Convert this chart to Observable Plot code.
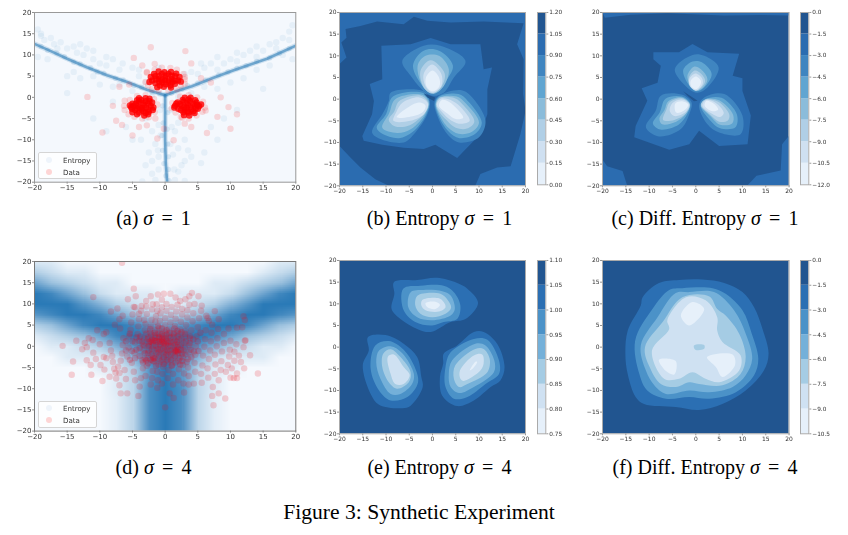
<!DOCTYPE html>
<html><head><meta charset="utf-8">
<script src="https://cdn.jsdelivr.net/npm/d3@7"></script>
<script src="https://cdn.jsdelivr.net/npm/@observablehq/plot@0.6"></script>
<style>
html,body{margin:0;padding:0;background:#fff}
#fig{position:relative;width:848px;height:535px;overflow:hidden}
#fig svg{position:absolute;background:transparent;filter:blur(.4px);overflow:visible}
.cap{position:absolute;font-family:"Liberation Serif",serif;font-size:20px;color:#000;white-space:nowrap;transform:translate(-50%,-50%)}
.cap b{font-weight:normal;margin:0 .08em}
.legend{position:absolute;width:57px;height:25px;background:rgba(255,255,255,.8);border:1px solid #d5d5d5;border-radius:2px;font:7.1px "DejaVu Sans",sans-serif;color:#333;filter:blur(.3px)}
.legend i{position:absolute;left:7px;width:6.4px;height:6.4px;border-radius:50%}
.legend span{position:absolute;left:24px}
</style></head><body><div id="fig"></div>
<script>
const axisTicks=[-20,-15,-10,-5,0,5,10,15,20];
const ramp8=["#e6f0fa","#cfe0f1","#b0cfe6","#8bbcda","#60a5d1","#3f85c0","#2b6cb0","#215590"];
const ramp7=["#e6f0fa","#cfe1f2","#a5cce4","#74b0d9","#4b92c8","#2b6fb3","#215590"];
const ticksB=[0,.15,.3,.45,.6,.75,.9,1.05,1.2];
const ticksC=[-12,-10.5,-9,-7.5,-6,-4.5,-3,-1.5,0];
const ticksE=[.75,.8,.85,.9,.95,1,1.05,1.1];
const ticksF=[-10.5,-9,-7.5,-6,-4.5,-3,-1.5,0];

// contour regions: [band index, outline in data units]
const contoursB=[
[7,[[-18.7,16.2],[-15.5,16.9],[-11.9,17.9],[-6.2,17.3],[-4,19],[-1.1,18.1],[3.9,17.7],[11,17.9],[19.6,17.5],[18.2,12.7],[19.6,9.2],[19.5,1.2],[20,-2.7],[18.9,-8.1],[16.8,-15.5],[13.9,-15.8],[10.3,-17.3],[9.2,-20],[-9.4,-20],[-12.3,-18.5],[-15.5,-15.8],[-17.6,-13.5],[-20,-10.8],[-20,8.1],[-18.5,9.6],[-19.6,13.1],[-18.5,14.2]]],
[6,[[-11,12.3],[-4.7,12.7],[-0.4,14.1],[3.9,12.7],[10.3,12.7],[11,6.9],[12.8,7.3],[11.8,2.3],[11.8,-3.5],[10.3,-8.1],[8.9,-9.6],[5.3,-13.6],[0.6,-10.5],[-1.9,-11.5],[-6.2,-11.2],[-10.8,-10.5],[-14.8,-9.6],[-15.1,-8.5],[-13,-3.5],[-12.6,-0.4],[-13.5,3.5],[-10.8,4.6]]],
[5,[[-6.5,8.8],[-1.9,12.3],[1.7,12.3],[7.1,8.8],[4.6,5],[2.4,1.5],[0.1,0.8],[-1.9,1.9],[-4.7,5.4]]],
[4,[[-4.2,7.7],[-1.9,11.2],[1.4,11.2],[4.4,7.7],[2.4,3.5],[0.6,1.3],[-1.5,2.3]]],
[3,[[-3.2,7.7],[-1.5,10],[1.4,10],[3.5,6.9],[2.4,3],[0.3,1.3],[-1.8,2.5]]],
[2,[[-2.6,6.5],[-0.4,9],[2.6,6],[2,3],[0,1.3],[-1.8,2.6]]],
[1,[[-1.9,5.8],[-0.1,8],[1.9,5.8],[1.9,3],[0,1.5],[-1.5,3]]],
[0,[[-1.4,5],[0,6.6],[1.4,5],[1.5,3],[0,1.8],[-1.3,3]]],
[5,[[-9,1.5],[-1.9,1.8],[-0.6,-0.4],[-1.1,-3.5],[-4,-8.1],[-6.2,-10],[-11.2,-9.2],[-13,-7.7],[-10.8,-3.5],[-9.4,-0.4]]],
[4,[[-8.5,0.6],[-2,1.4],[-0.7,-0.5],[-1.3,-3.4],[-4.3,-7.6],[-7.2,-9],[-10.8,-8],[-12,-6.6],[-10,-3.5]]],
[3,[[-8,0],[-2.2,1],[-0.8,-0.7],[-1.5,-3.3],[-4.6,-6.9],[-7.6,-7.8],[-10.8,-6.6],[-9.3,-3.2]]],
[2,[[-7.2,-0.5],[-2.5,0.8],[-0.9,-0.9],[-1.7,-3.2],[-4.9,-6],[-8,-6.3],[-9.4,-4.8],[-8.2,-2.8]]],
[1,[[-6.4,-0.8],[-2.8,0.4],[-1,-1],[-1.8,-3.4],[-4.8,-5],[-8.4,-5],[-7.8,-3]]],
[0,[[-5.8,-2.3],[-2.9,-0.8],[-1.5,-1.5],[-2.2,-3.1],[-5,-4.1],[-7.7,-4.2]]],
[5,[[1.4,0.8],[6,2.1],[8.2,0.8],[11.4,-5],[10,-8.8],[5.7,-10],[3.2,-8.1],[1,-3.8],[0.4,-0.8]]],
[4,[[1.4,0.6],[5.6,1.2],[7.6,-0.4],[10.6,-5.4],[9.2,-8],[5.8,-9],[3.4,-7.4],[1.2,-3.6],[0.6,-1]]],
[3,[[1.5,0.4],[5.2,0.6],[7.2,-1],[10,-5.4],[8.4,-7.6],[5.6,-8],[3.4,-6.6],[1.4,-3.4],[0.7,-1.1]]],
[2,[[1.6,0.3],[4.8,0.2],[6.8,-1.6],[9,-5.2],[7.4,-6.8],[5,-6.6],[3,-4.8],[1.5,-3],[0.8,-1.2]]],
[1,[[1.8,0.1],[4.3,-0.4],[6.4,-2.2],[8,-5],[6.2,-5.7],[4,-4.9],[2,-2.9],[0.9,-1.3]]],
[0,[[2,-0.2],[3.5,-0.6],[5.5,-2.5],[6.6,-4.3],[5,-4.6],[3.2,-3.3],[1.4,-1.5]]],
[7,[[-1.9,1.3],[0.6,0.4],[0.3,-0.4],[-1.1,0.4]]]
];
const contoursC=[
[6,[[-20,20],[20,20],[20,19.3],[14,19.4],[6,19.3],[-6,19.8],[-14,19.5],[-19.5,18.8]]],
[6,[[-20,-14],[-19,-15.5],[-15.7,-16.6],[-14.7,-20],[-20,-20]]],
[6,[[11,-20],[13,-17.7],[18.2,-16.5],[18.5,-10.4],[20,-8.4],[20,-20]]],
[6,[[-9.1,10.8],[-3.6,10.8],[-0.7,12.7],[2.5,10.8],[9.3,10.5],[7.9,5.4],[10,4.8],[10,1.9],[11.8,-3.8],[11.1,-10.4],[5,-10.8],[0.7,-7.3],[-1.4,-10.4],[-5.7,-11.7],[-13.2,-8.8],[-12.9,-6.2],[-10.4,-0.4],[-11.6,2.5],[-8.2,3.8],[-7.5,7.7],[-9.1,9.2]]],
[5,[[-4.5,6.9],[-0.7,10.2],[1.8,10],[4.9,7.3],[2.5,2.7],[0.4,1.5],[-1.4,2.3]]],
[4,[[-2.7,6.7],[-0.7,8.7],[1.3,8.5],[3.4,5.8],[1.8,2.7],[0.1,1.8],[-1.4,3.1]]],
[3,[[-1.8,5.4],[-0.4,7.5],[1.1,6.9],[2.5,4.6],[1.4,2.5],[0,1.9],[-1.3,3.5]]],
[2,[[-1.5,4.9],[-0.2,6.6],[1.2,5.8],[2,4.2],[1,2.5],[0,2],[-1.3,3.1]]],
[1,[[-1.4,4.6],[-0.1,5.9],[1.3,4.9],[1.5,3.6],[0.7,2.4],[0,2],[-1.2,3]]],
[0,[[-1.1,4.2],[0,5.2],[1.1,4.2],[0.7,2.8],[0,2.3],[-1,3]]],
[5,[[-7.5,0.8],[-2.9,1],[-0.9,-0.8],[-1.4,-3.5],[-3.2,-6.9],[-7.9,-8.6],[-10.7,-6.5],[-8.6,-2.7]]],
[4,[[-6.5,0.1],[-3,0.6],[-1.2,-1],[-1.8,-3.4],[-3.7,-5.9],[-7.6,-7],[-9.2,-5.6],[-7.7,-3]]],
[3,[[-5.9,-0.5],[-3,0.4],[-1.3,-1.1],[-2.1,-3.4],[-4.2,-5.2],[-7.2,-5.8],[-7.8,-4.5],[-6.7,-2.5]]],
[2,[[-5.6,-0.7],[-3,0.2],[-1.3,-1.2],[-2.2,-3.4],[-4.6,-4.8],[-7,-4.8],[-6.3,-2.4]]],
[1,[[-5,-0.9],[-3,-0.1],[-1.4,-1.2],[-2.3,-3.1],[-4.6,-3.9],[-5.6,-2.7]]],
[0,[[-4.4,-1],[-2.9,-0.5],[-1.6,-1.3],[-2.5,-2.6],[-4.2,-3.1]]],
[5,[[1.8,0.4],[6.1,1.2],[10,-3.8],[9.6,-8.1],[5,-7.7],[2.5,-5.8],[0.7,-1.5]]],
[4,[[2,0],[5.5,0.3],[8.8,-3.5],[8.5,-6.5],[5.2,-6.7],[3,-4.8],[1,-1.4]]],
[3,[[2.1,0],[5.1,-0.3],[8,-3.6],[7.8,-5.6],[5.2,-5.9],[3.2,-4],[1.1,-1.4]]],
[2,[[2.1,-0.1],[4.8,-0.6],[7.2,-3.6],[6.8,-5],[5,-5.2],[3.1,-3.6],[1.1,-1.4]]],
[1,[[2.2,-0.2],[4.3,-0.9],[6,-3.2],[5.2,-4.1],[3.4,-3.3],[1.4,-1.5]]],
[0,[[2.3,-0.4],[3.8,-1],[4.8,-2.4],[3.6,-2.8],[1.9,-1.5]]],
[7,[[-2.7,1.8],[0.4,-0.4],[-0.4,-0.5],[-1.8,0.8]]]
];
const contoursE=[
[5,[[-8.3,15],[-3.3,15.5],[1,16],[5.3,14.8],[7.5,13.5],[9.8,10.2],[7.1,6.5],[3.9,5.8],[-0.4,3.5],[-3.3,4.2],[-6.9,6.5],[-8.8,8.8],[-8.2,12.3]]],
[4,[[-6.3,13.5],[-2.6,14.2],[2.4,14.2],[4.6,12.7],[6,9.6],[5.3,6.5],[2.4,5.8],[-0.1,5],[-3.7,5.8],[-6.2,8.5]]],
[3,[[-4.7,12.7],[-1.9,13.2],[2.1,12.9],[3.9,11.9],[4.8,8.8],[3.9,7.3],[-0.1,6.2],[-3.3,6.9],[-5.2,9.2]]],
[2,[[-3.2,11.9],[1.7,12.3],[3.3,10.8],[4,9.1],[2.8,7.7],[-0.1,6.9],[-2.6,7.7],[-3.7,9.6]]],
[1,[[-2.2,10.9],[1.4,11.3],[2.4,10.4],[2.8,9.2],[1.4,8.2],[-1.5,8.5],[-2.4,9.6]]],
[0,[[-1.5,10.2],[0.6,10.5],[1.6,9.8],[0.6,8.8],[-1.1,9.2]]],
[5,[[-13.9,2.3],[-10.1,2.8],[-6.2,0.8],[-3.3,-2.3],[-2.4,-6.9],[-2.1,-9.2],[-4.7,-13.5],[-6.5,-14.1],[-11.5,-13.3],[-13.3,-10.8],[-15,-4.2],[-13.7,-0.8]]],
[4,[[-12.3,0.4],[-9.4,1.4],[-6.2,-0.6],[-4,-4.2],[-3.1,-8.1],[-5.4,-11.5],[-9,-12.3],[-11.5,-10],[-13.3,-5]]],
[3,[[-11.5,-0.8],[-9,0.2],[-6.5,-1.4],[-4,-6.2],[-4.4,-8.5],[-6.9,-10.8],[-9,-10.8],[-11.2,-7.3],[-12.1,-3.5]]],
[2,[[-10.6,-1.5],[-9,-0.5],[-6.9,-2.3],[-4.7,-5.8],[-5.1,-8.1],[-7.6,-9.6],[-9.4,-8.1],[-10.8,-4.6]]],
[1,[[-9.6,-2.2],[-8.3,-1.7],[-6.2,-4.6],[-4.9,-6.5],[-6.2,-8.5],[-8,-8.5],[-9,-6.2]]],
[5,[[2.4,-1.5],[5.3,0.4],[8.9,3.5],[11,3.5],[13.9,0.8],[15.5,-4.6],[14.6,-7.7],[12.5,-9.2],[8.9,-12.3],[5.3,-13.6],[2.1,-11.2],[1.6,-6.9],[2.3,-3.8]]],
[4,[[3.9,-1.2],[8.9,1.9],[11.8,1.7],[14.3,-3.1],[14.3,-6.2],[11.4,-8.5],[7.5,-11.5],[4.6,-11.9],[2.8,-9.2],[2.8,-4.6]]],
[3,[[4.2,-3.1],[9.2,0.8],[11.4,0.4],[13.3,-3.1],[13.2,-5.8],[8.9,-9.2],[5.7,-10.6],[3.9,-9.2],[3.5,-6.2]]],
[2,[[4.9,-4.2],[9.2,-0.4],[11,-0.4],[12.3,-2.7],[11.8,-5.8],[7.5,-8.5],[5.7,-9.2],[4.6,-7.3]]],
[1,[[5.9,-5.4],[8.9,-1.9],[10.7,-1.7],[11,-3.8],[10.3,-5.4],[6.7,-7.8],[6,-7.3]]],
[0,[[8,-5.4],[9.2,-3.4],[9.6,-3.4],[8.6,-5]]]
];
const contoursF=[
[5,[[-7.9,14.8],[-3.6,15.5],[1.4,15.6],[6.1,14.8],[10,12.7],[12.5,9.2],[14.3,4.2],[15.6,-1.5],[14.6,-5.4],[10.7,-10],[5.7,-13.1],[0.7,-14.5],[-4.3,-13.8],[-11.1,-13.1],[-12.9,-11.5],[-14.6,-6.2],[-15.1,-1.5],[-14.6,3.8],[-11.8,9.6],[-11.4,11.5]]],
[4,[[-5.7,13.2],[-2.9,13.6],[3.6,13.6],[6.4,12.3],[10,8.5],[12,3.1],[13.4,-2.7],[12.5,-6.5],[8.6,-10.4],[2.9,-11.9],[-1.4,-11.5],[-6.4,-11.9],[-10.4,-10],[-12.1,-6.2],[-13,1.5],[-9.3,8.8]]],
[3,[[-4.3,12.5],[-1.4,12.7],[3.9,12.7],[8.2,8.5],[10.7,3.1],[12.1,-2.7],[10.7,-6.5],[7.9,-9.2],[2.9,-10.4],[-1.4,-10],[-6.4,-10.8],[-8.9,-8.8],[-10.7,-5.4],[-11.8,0.4],[-8.2,6.9]]],
[2,[[-2.9,11.5],[2.9,11.7],[4.6,8.8],[6.4,7.3],[9.3,3.1],[10.7,-2.3],[9.6,-6.2],[5.7,-8.8],[0.7,-8.5],[-1.4,-8.1],[-4.3,-9.2],[-7.5,-8.5],[-9.9,-4.6],[-10.9,0],[-7.1,5.8]]],
[1,[[-2.1,11.5],[2.1,10.8],[4.6,6.9],[4.6,3.8],[5.7,1.2],[9.6,-1.9],[9.3,-5.4],[5,-8.1],[2.1,-7.3],[-0.7,-5.8],[-3.6,-7.3],[-6.8,-7.3],[-9.4,-0.8],[-5.7,4.2],[-6.1,6.2]]],
[0,[[-3.2,7.3],[-0.7,10.4],[1.8,8.8],[-1.4,5]]],
[0,[[-7.9,-2.9],[-4.3,-3.2],[-4.6,-6.3],[-6.4,-5.5]]],
[0,[[2.4,-2.3],[7.9,-1.7],[8.4,-4.2],[5.7,-6.9],[4.3,-4.6]]],
[2,[[-0.4,0.4],[1.8,0.5],[1.8,-0.4],[-0.1,-0.6]]]
];

// panel (a): ridge of high entropy
const ridgeLeft=[[-20,12.6],[-17.5,10.9],[-15,9.1],[-12,7.1],[-8.9,5.2],[-5.8,3.6],[-2.8,1.8],[0,0.5]];
const ridgeRight=[[20,12.2],[15.6,9.1],[10.5,6.4],[7.4,4.6],[4.1,2.6],[1.8,1.5],[0,0.5]];
const ridgeDown=[[0,0.5],[0,-4.6],[0,-10.1],[0.1,-15.6],[0.3,-20]];
const ridgeSpots=[[-19,12],[-18,11.1],[-16.6,10.5],[-15.4,9.6],[-14,8.3],[-13,7.9],[-11.4,7],[-10.4,6],[-9.4,5.7],[-7.6,4.5],[-6.4,4.1],[-4.8,2.8],[-3.6,2.4],[-2,1.2],[-0.8,0.8],[1,1],[2.6,2],[3.4,2.8],[5,3.4],[6.2,4.1],[8.2,5.3],[9.6,6],[11,6.9],[12.4,7.5],[14,8.5],[16,9.3],[17.5,10.4],[19,11.5],[-0.4,-2],[0.4,-3.6],[-0.3,-6],[0.3,-7.5],[-0.5,-9],[0.4,-11],[-0.4,-12.5],[0.5,-14],[-0.2,-15.6],[0.5,-17],[0.1,-18.5],[0.6,-19.6]];
const entropySpots=[[-19.5,16],[-19,14.5],[-18.5,13.5],[-19.5,9.5],[-18,9],[-17,12.5],[-16,13],[-15,11.5],[-14,12],[-13.5,10.5],[-12.5,10],[-12,11.5],[-11,9],[-10,8],[-9,7.5],[-8,9],[-7,6.5],[-14,6],[-15,5],[-13,4.5],[-11,5],[-10,3],[-8,2.5],[-7,3],[-5,1.5],[-4,5],[-3,3.5],[-5,7],[-4,6.5],[-1,7],[-2,0.5],[2,0.2],[3,5.5],[4,6],[5,5.5],[6,7],[7,8],[8,6.5],[9,8],[10,9],[11,8.5],[12,10],[13,11],[14,9.5],[15,11],[16,12.5],[17,13],[18,14],[19,15.5],[19.5,17],[19.5,9],[18,10],[16,7.5],[14,6.5],[12,4.5],[10,3.5],[8,2],[6,2.5],[4,1],[-3,-5],[-2,-8],[-1.5,-11],[-2.5,-13],[-3,-16],[-2,-18],[-1.5,-19.5],[-3.5,-19.8],[1.5,-19.5],[3,-19.7],[2,-17.5],[3,-15],[4,-14],[5.5,-15.5],[6,-13],[2,-12],[3,-10],[1.5,-8],[2,-6],[-1,-6.5],[1,-7],[-1,-14],[1.2,-13.5],[-1,-17],[1.4,-17],[-0.8,-3],[0.8,-3],[-0.7,-9],[0.8,-11],[-1.1,-12.5],[-11,-5],[-9,-8],[-8,-1],[-6,-7],[-5,-10],[7,-7],[9,-5],[11,-3],[8,-10],[-15,1],[15,2],[-19,15],[-17.5,14],[-16.5,11.5],[-13,12.5],[-11,11],[-9,9.5],[-6.5,8],[5.5,8],[8,9.5],[11,10.5],[14,12],[17,11.5],[19,13.5],[-3.7,-10],[3.5,-12.5],[-2,-15],[2.5,-16]];
// panel (a): the data, dense core and sparse rim
const dataCore1=[[-1.5,5],[-0.5,5.5],[0.5,5.5],[1.5,5],[-2,4],[-1,4.3],[0,4.5],[1,4.3],[2,4],[-1.5,3.3],[-0.5,3.5],[0.5,3.5],[1.5,3.2],[-0.8,2.8],[0.8,2.8],[0,4],[-2.2,4.8],[2.2,4.8],[-0.9,5],[0.1,5.1],[1,5.1],[-0.5,4.1],[0.6,4],[1.5,3.9],[-1.4,4.2],[-0.9,3.6],[0.1,3.1],[1.1,3.6],[-0.2,2.5],[-1.7,5.5],[1.7,5.6],[-0.1,5.9],[-2.4,3.6],[2.4,3.7],[-1,6.1],[0.9,6],[-1.2,2.4],[0.9,2.3],[-5,-1.5],[-4,-1],[-3,-0.9],[-2,-1.2],[-5.2,-2.3],[-4.2,-2],[-3.2,-1.8],[-2.2,-2],[-1.8,-2.4],[-4.6,-3],[-3.6,-2.9],[-2.6,-2.9],[-4,-3.6],[-3,-3.7],[-3.4,-1.4],[-3.5,-2.5],[-2.5,-3.4],[-4.5,-1.5],[-3.9,-2.4],[-2.9,-2.4],[-4.3,-2.6],[-2.6,-1.5],[-3.7,-0.6],[-4.8,-2],[-1.9,-3],[-3.4,-3.3],[-5.4,-1.9],[-2.4,-0.9],[-4.3,-0.7],[-5.1,-2.7],[-4,-0.2],[-3,-0.2],[-2.4,-0.3],[-4.3,-4],[-3.2,-4.3],[-2.6,-4],[-5,-3.5],[2.3,-1.6],[1.9,-1.2],[2.8,-1],[3.8,-0.9],[4.8,-1.2],[1.5,-2],[2.5,-2],[3.5,-1.8],[4.5,-2],[5.2,-2.1],[2,-2.7],[3,-2.9],[4,-2.9],[5,-2.7],[2.8,-3.5],[3.6,-3.6],[3.3,-1.4],[3.3,-2.4],[4.3,-3.3],[2.9,-2.4],[3.9,-2.3],[4.3,-1.5],[2.7,-0.6],[3.6,-0.5],[4.9,-1.8],[1.7,-1.5],[2.4,-3],[3.4,-3.3],[5.5,-1.7],[4.6,-0.7],[4.7,-2.6],[1.4,-2.4],[3,-0.1],[3.9,-0.1],[2.9,-4.2],[3.7,-4.3],[4.5,-3.7]];
const dataRim1=[[-2.8,5.8],[-1.6,6.5],[-0.5,7],[0.8,6.9],[1.8,6.5],[2.8,5.5],[3,4.2],[3,3.2],[-3,3.6],[-2.6,2.8],[-2,1.9],[-1,1.7],[0.5,1.6],[1.8,1.9],[2.4,2.8],[-1.6,7.9],[-2.8,6],[3,4.8],[-4.8,9.3],[-2.2,11.8],[3.1,10.9],[-6.2,-0.8],[-6.3,-2],[-6.2,-3],[-5.6,-4],[-4.7,-4.6],[-3.5,-5],[-2.5,-4.7],[-1.6,-3.5],[-5.4,-0.6],[-4.3,0.3],[-3,0.5],[-1.7,-0.4],[-1.2,-1.7],[1.1,-1.3],[1,-2.6],[1.6,-3.6],[2.4,-4.6],[3.6,-5],[4.8,-4.3],[5.7,-3.4],[6.1,-2.4],[5.8,-1],[4.9,0],[3.6,0.5],[2.3,0.2],[-11.9,0.1],[-9.6,-8.3],[-2.8,-6.6],[6.4,-8.4],[10,-7.4],[9.7,-2.3],[8,-4.6],[6.2,-3.1],[2.6,-4.8],[-0.2,-7.4],[-1.2,-9.7],[1.3,-10.1],[-6.6,-6.5],[-7.5,-5.5],[-8,-2],[-7,2.5],[-5.5,3],[-3.5,7.5],[4,8],[5.5,4.5],[7,3.5],[8.5,0],[11,-4],[4,-7],[3,-6.2],[-1.5,-5],[-4,-7],[-5,-9]];
// panel (d): the data
const dataSigma4=[[-6.6,19.7],[-4.8,13.6],[-11,11.6],[-4.5,11.8],[-5.7,11.1],[4.1,12.6],[5.1,11.8],[3.7,11.8],[0.8,12.4],[-0.2,12.4],[-1.1,12.2],[-2.2,11.8],[-2.9,10.7],[1.6,11.5],[3.1,11.1],[2.3,10.7],[-15.7,0.1],[-13.6,1.3],[-14.1,-3.6],[-14.3,-6.7],[-12.7,-0.7],[-11.7,1.9],[-11.3,-6.7],[-11.4,-4.4],[-12,-3.3],[-9.6,-8.2],[-9.9,-4.4],[-10.4,3.8],[-8.3,8.2],[-7.3,8.9],[-6.8,-11.1],[-5.8,-11.1],[-4.1,-11.7],[-7,-9.2],[-8.5,-7.2],[0,-14.4],[0.7,-11.1],[1.3,-12.2],[2.9,-10.9],[7.4,-13.9],[7.2,-11.7],[8.2,-11.1],[9.2,-12.3],[7.3,-9.6],[14.2,-6.4],[10,-7.4],[10.5,-7.5],[11,-7.5],[12.1,-5.2],[13,-2.1],[12.3,1.4],[12,7.1],[12.2,6.2],[11.8,4.5],[11,4.4],[9.7,4.2],[7.6,8.3],[8.2,6.4],[6.7,6],
[-12.3,0.8],[-12,-0.2],[-11,-1.5],[-10.6,-3],[-11.1,1.5],[-10,0.5],[-9.4,-2.5],[-9,-2.8],[-9.3,-5.5],[-9.4,2.9],[-9,3.3],[-8.5,0.8],[-8.3,-1],[-8.1,-2.3],[-8,-3.7],[-7.8,-5.3],[-7.6,-6.2],[-7.5,-7.6],[-7.2,-4.8],[-7,-6.3],[-6.8,-3.4],[-6.6,-1.7],[-6.5,0.3],[-6.4,1.9],[-6.9,4.2],[-7.7,5.1],[-7,6.4],[-6.5,7.2],[-6.2,-5.6],[-6,-7.7],[-5.8,-2.4],[-5.6,-0.3],[-5.5,2.4],[-5.3,3.9],[-5.2,5.6],[-5,7.5],[-4.8,9.3],[-4.6,9.2],[-3.7,8.4],[-3.2,6.2],[-3.6,9.5],[-4.6,-8],[-4.8,-6],[-5.1,-3.9],[-4.7,-1.5],[-4.6,0.9],[-4.2,2.9],[-4.1,4.7],[-4,6.4],[-4,7.7],[-3.9,-9.5],[-3.7,-7.5],[-3.4,-5.2],[-3.5,-3.3],[-3.3,-1],[-3.4,0.4],[-3.2,1.8],[-3.1,3.8],[-3,5.3],[-2.8,7.6],[-2.9,9.4],[-3,-7],[-2.8,-4.6],[-2.6,-2.8],[-2.5,-1],[-2.5,0.5],[-2.6,2.1],[-2.3,3.2],[-2.2,4.7],[-2.1,6.2],[-2,8.7],[-1.9,9.9],[-2.2,-9],[-2,-7.5],[-1.9,-5.8],[-1.9,-3.4],[-1.8,-2.4],[-1.7,-1],[-1.9,0.2],[-1.8,1.3],[-1.6,2.5],[-1.5,3.8],[-1.5,5.8],[-1.4,7.1],[-1.2,8.4],[-1.3,9.9],[-1.2,-9.8],[-1.1,-8],[-1.2,-6],[-1,-4.3],[-1,-2.9],[-1,-1.4],[-1.1,-0.2],[-1,1],[-1,1.9],[-0.8,3],[-0.9,4.4],[-0.8,6],[-0.7,7.8],[-0.5,9.2],[-0.5,11],[-0.5,-8.8],[-0.4,-6.5],[-0.3,-4.8],[-0.4,-3.2],[-0.3,-1.7],[-0.3,-0.5],[-0.3,0.5],[-0.2,1.5],[-0.2,2.5],[-0.1,3.5],[0,5],[0,6.6],[0.2,8.4],[0.2,10],[0.4,-7.5],[0.5,-5.6],[0.4,-3.8],[0.5,-2.4],[0.5,-1.2],[0.5,0],[0.5,1.2],[0.6,2.4],[0.6,4],[0.8,5.6],[0.9,7.4],[1,9.3],[1.2,-9],[1.2,-6.5],[1.1,-4.4],[1.2,-2.9],[1.2,-1.5],[1.3,-0.4],[1.3,0.9],[1.3,2.2],[1.4,3.2],[1.5,4.8],[1.6,6.5],[1.7,8.2],[1.9,9.8],[2,-8],[2.1,-5.4],[2,-3.4],[1.9,-1.8],[2,-0.8],[2,0.4],[2.1,1.6],[2.2,2.9],[2.3,4],[2.4,5.8],[2.6,7.5],[2.6,8.8],[2.8,-8.8],[2.9,-6.4],[2.7,-4.4],[2.7,-2.6],[2.8,-1],[2.9,0.8],[3,2.2],[3.1,3.6],[3.2,5],[3.4,6.8],[3.4,8.5],[3.7,9.8],[3.6,-9],[3.6,-7],[3.5,-5],[3.5,-3],[3.6,-1.4],[3.7,0.2],[3.8,1.9],[4,3.8],[4.2,5.9],[4.3,7.8],[4.5,10],[4.6,-6],[4.4,-8.8],[4.5,-3.9],[4.6,-2],[4.7,0],[4.8,2.4],[5,4.5],[5.2,6.6],[5.5,8.4],[5.6,9.6],[5.6,-8.6],[5.5,-6.5],[5.7,-4.5],[5.8,-2.2],[6,-0.1],[6.1,1.7],[6.2,3.8],[6.5,6.7],[6.3,7.2],[6.6,-7.4],[6.5,-5.2],[6.7,-3],[6.9,-1],[7,1.2],[7.1,3.2],[7.2,5.1],[7.6,-6.5],[7.7,-4.3],[7.6,-2],[7.9,0],[8,1.9],[8.1,4.1],[8.2,-8],[8.5,-5.6],[8.6,-3.5],[8.7,-1.2],[9,0.8],[9,2.9],[9.3,-6],[9.6,-4.4],[9.8,-2.4],[9.9,-0.8],[10,1.3],[10.2,-5.2],[10.6,-3.4],[10.6,-1.3],[10.9,0.5],[11,-6.4],[11.3,-2.2],[11.6,-3.7],[12,-0.2],[12.2,1.3]];
// the dense heart of the (d) cloud
const dataHeart4=[[-3.8,2.3],[-3.5,1.1],[-3.2,0.2],[-3.1,-1.6],[-3.1,-2.9],[-3.4,-3.8],[-2.9,3],[-2.7,1.7],[-2.4,1],[-2.5,0],[-2.6,-1.6],[-2.9,-3.3],[-2.6,-4],[-2.2,-3.2],[-2.3,4.1],[-2.1,2.7],[-2,1.6],[-1.9,0.9],[-1.6,1.4],[-2,-0.6],[-2.1,-2],[-1.7,-3.6],[-1.6,-2.9],[-1.6,3.2],[-1.5,2],[-1.3,1.2],[-1.4,0.2],[-1.3,-1.6],[-1.4,-4.6],[-1.1,4.7],[-1.1,3],[-0.9,2.2],[-0.8,1.3],[-0.8,0.5],[-0.7,-0.8],[-0.9,-2.2],[-0.7,-3.6],[-0.5,4.2],[-0.5,2.9],[-0.4,1.9],[-0.5,1],[-0.2,0.9],[-0.1,0],[-0.1,-1.2],[-0.2,-2.6],[-0.2,-4.2],[0.2,3.8],[0.2,2.8],[0.1,1.9],[0.2,1.2],[0.1,0.4],[0.3,-0.9],[0.2,-2],[0.3,-3.3],[0.7,3.2],[0.8,2],[0.8,1],[0.9,0.1],[0.8,-0.9],[0.9,-1.9],[0.9,-3.2],[1,-4.6],[1.4,4.2],[1.3,2.9],[1.5,1.4],[1.5,0.4],[1.5,-0.9],[1.6,-1.2],[1.5,-2.3],[1.6,-3.8],[1.9,3.6],[1.9,2.3],[1.8,1],[1.9,-0.2],[1.8,-1.1],[2,-1.5],[2.2,-2.8],[2.3,-4.3],[2.5,3.3],[2.5,1.8],[2.4,0.3],[2.4,-0.8],[2.6,-1.7],[2.6,-3.4],[3.1,2.9],[3.2,1.2],[3,-0.3],[3.1,-1.9],[3.3,-3.7],[3.8,2.4],[3.8,0.8],[3.9,-0.8],[4,-2.6],[4.3,1.6],[4.4,-1.2],[5,1.2],[5.1,-1.1],[5.4,3.2],[-4,1.3],[-3.9,-0.4],[-3.9,-2.3],[-4.4,2.1],[-4.4,-0.8],[-4.6,-2.8],[-5,1.2],[-5.1,-1.1],[-5.4,3],[-5.4,-3.2],[-6,1.2],[-6,-1],[-1.1,-0.7],[0.5,0.7],[-2.2,1.2],[-1.8,-2.8],[1.7,-0.9],[-0.5,1.6]];

// panel (d): entropy field, rows from y=20 down to y=-20, columns x=-20 to 20, every 2.5 units
const entropyGrid=[
[1,1,0,0,0,0,0,0,0,0,0,0,0,0,0,1,1],
[3,2,1,1,0,0,0,0,0,0,0,0,0,0,1,2,3],
[6,4,3,2,1,1,0,0,0,0,0,1,1,2,3,4,6],
[9,8,6,4,2,1,1,1,0,1,1,1,2,4,6,8,9],
[9,9,9,7,5,3,2,1,1,1,2,3,5,7,9,9,9],
[7,8,9,9,8,6,4,3,3,3,4,6,8,9,9,8,7],
[3,4,6,8,9,9,8,7,6,7,8,9,9,8,6,4,3],
[1,2,3,4,6,8,9,9,9,9,9,8,6,4,3,2,1],
[0,1,1,2,3,5,7,9,9,9,7,5,3,2,1,1,0],
[0,0,1,1,1,2,5,8,9,8,5,2,1,1,1,0,0],
[0,0,0,0,1,1,3,7,9,7,3,1,1,0,0,0,0],
[0,0,0,0,0,1,2.5,7,9,7,2.5,1,0,0,0,0,0],
[0,0,0,0,0,1,2.5,7.5,9,7.5,2.5,1,0,0,0,0,0],
[0,0,0,0,0,.8,2.5,7.5,9,7.5,2.5,.8,0,0,0,0,0],
[0,0,0,0,0,.8,2.5,7.5,9,7.5,2.5,.8,0,0,0,0,0],
[0,0,0,0,0,.8,2.5,7.5,9,7.5,2.5,.8,0,0,0,0,0],
[0,0,0,0,0,.8,2.5,7.5,9,7.5,2.5,.8,0,0,0,0,0]];

const fig=document.getElementById("fig");
const minus=d=>String(d).replace("-","\u2212");
function place(svg,left,top){svg.style.left=left+"px";svg.style.top=top+"px";fig.appendChild(svg);}
const M={l:30,r:10,t:8,b:16};
function axes(fs,stroke){return [
  Plot.axisX(axisTicks,{anchor:"bottom",label:null,tickSize:2,tickPadding:1,fontSize:fs,tickFormat:minus,stroke:"#444",fill:"#333",strokeWidth:.6}),
  Plot.axisY(axisTicks,{anchor:"left",label:null,tickSize:2,tickPadding:1,fontSize:fs,tickFormat:minus,stroke:"#444",fill:"#333",strokeWidth:.6}),
  Plot.frame({stroke,strokeWidth:1})
];}
function base(x0,x1,y0,y1,extra,marks){
  return Plot.plot(Object.assign({width:x1-x0+M.l+M.r,height:y1-y0+M.t+M.b,marginLeft:M.l,marginRight:M.r,marginTop:M.t,marginBottom:M.b,
    style:{fontFamily:"'DejaVu Sans',sans-serif"},
    x:{domain:[-20,20],axis:null},y:{domain:[-20,20],axis:null},marks},extra));
}
function rows(polys){return polys.flatMap(([level,pts],i)=>pts.map(([x,y])=>({poly:i,level,x,y})));}
function contourPanel(x0,x1,y0,y1,polys,ramp,baseLevel){
  const levels=ramp.map((_,i)=>i);
  const last=polys[polys.length-1];
  const tail=last[0]===7?[last]:[];
  const outer=polys.filter(p=>p[0]>=6&&p!==last);
  const inner=polys.filter(p=>p[0]<6);
  const shape=(list,curve)=>Plot.line(rows(list),{x:"x",y:"y",z:"poly",fill:"level",stroke:"none",curve,clip:true});
  const svg=base(x0,x1,y0,y1,{color:{type:"ordinal",domain:levels,range:ramp}},[
    Plot.rect([{level:baseLevel}],{x1:-20,x2:20,y1:-20,y2:20,fill:"level",inset:0}),
    shape(outer,"linear"),
    shape(inner,"catmull-rom-closed"),
    shape(tail,"linear"),
    ...axes(6,"#aaa")
  ]);
  place(svg,x0-M.l,y0-M.t);
}
function colorbar(x0,x1,y0,y1,ticks,ramp,digits){
  const bands=ramp.map((c,i)=>({i,lo:ticks[i],hi:ticks[i+1]}));
  const svg=Plot.plot({width:x1-x0+4+30,height:y1-y0+M.t+M.b,marginLeft:4,marginRight:30,marginTop:M.t,marginBottom:M.b,
    style:{fontFamily:"'DejaVu Sans',sans-serif"},
    x:{domain:[0,1],axis:null},y:{domain:[ticks[0],ticks[ticks.length-1]],axis:null},
    color:{type:"ordinal",domain:ramp.map((_,i)=>i),range:ramp},
    marks:[
      Plot.rect(bands,{x1:0,x2:1,y1:"lo",y2:"hi",fill:"i",inset:0}),
      Plot.axisY(ticks,{anchor:"right",label:null,tickSize:2,tickPadding:1.5,fontSize:5.8,stroke:"#555",fill:"#333",strokeWidth:.6,tickFormat:d=>minus(d.toFixed(digits))}),
      Plot.frame({stroke:"#aaa",strokeWidth:1})
    ]});
  place(svg,x0-4,y0-M.t);
}
const R=3.2;
// (a)
place(base(34,295.3,12.3,182,{},[
  Plot.frame({fill:"#f4f8fd",stroke:"none"}),
  Plot.dot(entropySpots,{x:d=>d[0],y:d=>d[1],r:R,fill:"#2f7fb8",fillOpacity:.07,stroke:"none",clip:true}),
  ...[ridgeLeft,ridgeRight,ridgeDown].flatMap(p=>[
    Plot.line(p,{x:d=>d[0],y:d=>d[1],stroke:"#3b88bd",strokeOpacity:.2,strokeWidth:5,clip:true}),
    Plot.line(p,{x:d=>d[0],y:d=>d[1],stroke:"#2f7fb8",strokeOpacity:.6,strokeWidth:2.6,clip:true})
  ]),
  Plot.dot(ridgeSpots,{x:d=>d[0],y:d=>d[1],r:2.6,fill:"#2f7fb8",fillOpacity:.14,stroke:"none",clip:true}),
  Plot.dot(dataRim1,{x:d=>d[0],y:d=>d[1],r:R,fill:"#f00",fillOpacity:.14,stroke:"none",clip:true}),
  Plot.dot(dataCore1,{x:d=>d[0],y:d=>d[1],r:R,fill:"#f00",fillOpacity:.8,stroke:"none",clip:true}),
  ...axes(7,"#999")
]),34-M.l,12.3-M.t);
contourPanel(339,525,11.7,185,contoursB,ramp8,6);
colorbar(536.7,545,11.7,184,ticksB,ramp8,2);
contourPanel(601.7,788.3,11.7,185,contoursC,ramp8,7);
colorbar(799.7,808,11.7,184,ticksC,ramp8,1);
// (d)
place(base(34,295.3,260.7,430.3,{color:{type:"linear",domain:[0,9],range:["#f5f9fe","#2a7ab7"]}},[
  Plot.raster(entropyGrid.flat(),{width:17,height:17,x1:-21.25,x2:21.25,y1:21.25,y2:-21.25,clip:true}),
  Plot.dot(dataSigma4,{x:d=>d[0],y:d=>d[1],r:R,fill:"#e8101c",fillOpacity:.19,stroke:"none",clip:true}),
  Plot.dot(dataHeart4,{x:d=>d[0],y:d=>d[1],r:R,fill:"#e00820",fillOpacity:.24,stroke:"none",clip:true}),
  ...axes(7,"#777")
]),34-M.l,260.7-M.t);
contourPanel(339,525,260,433.3,contoursE,ramp7,6);
colorbar(536.7,545,260,433.3,ticksE,ramp7,2);
contourPanel(601.7,788.3,260,433.3,contoursF,ramp7,6);
colorbar(799.7,808,260,433.3,ticksF,ramp7,1);

function legend(top){
  const d=document.createElement("div");d.className="legend";d.style.left="38px";d.style.top=top+"px";
  d.innerHTML='<i style="top:3.5px;background:#eef4fb"></i><span style="top:2.5px">Entropy</span><i style="top:15.5px;background:#fdd5d5"></i><span style="top:14.5px">Data</span>';
  fig.appendChild(d);
}
legend(152);legend(400.5);
const caps=[["(a) ","= 1",153.5,218],["(b) Entropy ","= 1",439.5,218],["(c) Diff. Entropy ","= 1",705,218],
["(d) ","= 4",153.5,467],["(e) Entropy ","= 4",439.5,467],["(f) Diff. Entropy ","= 4",705,467]];
for(const [a,b,x,y] of caps){
  const c=document.createElement("div");c.className="cap";c.style.left=x+"px";c.style.top=y+"px";
  c.innerHTML=a+"<i>σ</i><b> </b>"+b.replace("= ","=<b> </b>");fig.appendChild(c);
}
const t=document.createElement("div");t.className="cap";t.style.left="419px";t.style.top="512px";t.style.fontSize="21.6px";
t.textContent="Figure 3: Synthetic Experiment";fig.appendChild(t);
</script></body></html>
